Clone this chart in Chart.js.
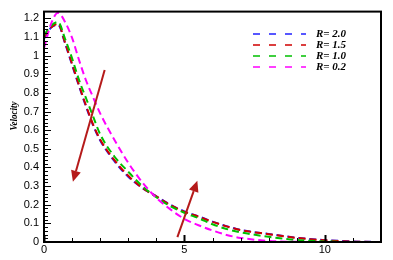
<!DOCTYPE html>
<html>
<head>
<meta charset="utf-8">
<script src="https://cdn.jsdelivr.net/npm/chart.js@4.4.1/dist/chart.umd.min.js"></script>
<style>
  html, body { margin: 0; padding: 0; background: #fff; }
  #wrap { width: 393px; height: 260px; }
</style>
</head>
<body>
<div id="wrap"><canvas id="myChart"></canvas></div>
<script>
// eta values shared by all curves
const xValues = [0, 0.25, 0.5, 0.75, 1, 1.25, 1.5, 1.75, 2, 2.5, 3, 3.5, 4, 4.5, 5, 5.5, 6, 6.5, 7, 8, 9, 10, 11, 12];
const velR20 = [1.09, 1.15, 1.165, 1.065, 0.95, 0.835, 0.725, 0.625, 0.545, 0.435, 0.35, 0.29, 0.245, 0.2, 0.164, 0.138, 0.109, 0.085, 0.065, 0.043, 0.023, 0.01, 0.003, 0];
const velR15 = [1.10, 1.15, 1.17, 1.07, 0.955, 0.84, 0.73, 0.63, 0.55, 0.44, 0.355, 0.29, 0.245, 0.198, 0.162, 0.136, 0.108, 0.084, 0.064, 0.042, 0.022, 0.009, 0.002, 0];
const velR10 = [1.11, 1.16, 1.18, 1.09, 0.985, 0.868, 0.77, 0.673, 0.578, 0.46, 0.377, 0.30, 0.24, 0.192, 0.157, 0.128, 0.095, 0.07, 0.052, 0.028, 0.011, 0.003, 0, 0];
const velR02 = [1.04, 1.17, 1.23, 1.18, 1.095, 0.975, 0.865, 0.776, 0.69, 0.55, 0.425, 0.32, 0.237, 0.175, 0.124, 0.09, 0.062, 0.038, 0.022, 0.006, 0.001, 0, 0, 0];
const seriesNames = ['R= 2.0', 'R= 1.5', 'R= 1.0', 'R= 0.2'];
const xTickLabels = [0, 5, 10];
const yTickLabels = [0, 0.1, 0.2, 0.3, 0.4, 0.5, 0.6, 0.7, 0.8, 0.9, 1, 1.1, 1.2];
const yTitle = 'Velocity';
// arrows: [x0, y0, x1, y1], head at the second point
const arrows = [[2.16, 0.923, 1.03, 0.323], [4.75, 0.026, 5.46, 0.329]];

const colors = ['#2020ff', '#d00000', '#00c000', '#ff00ff'];
const ctx = document.getElementById('myChart');

function pts(ys) {
  return xValues.map((x, i) => ({ x: x, y: ys[i] }));
}

const allSeries = [velR20, velR15, velR10, velR02];
const datasets = allSeries.map((ys, i) => ({
  label: seriesNames[i],
  data: pts(ys),
  borderColor: colors[i],
  borderWidth: 2,
  borderDash: [7, 4],
  pointRadius: 0,
  fill: false,
  showLine: true,
  cubicInterpolationMode: 'monotone',
  order: 4 - i
}));

const framePlugin = {
  id: 'frame',
  afterDatasetsDraw(chart) {
    const { ctx, chartArea: a, scales: { x, y } } = chart;
    ctx.save();
    // arrows
    ctx.strokeStyle = '#b51a1a';
    ctx.fillStyle = '#b51a1a';
    ctx.lineWidth = 2;
    arrows.forEach(ar => {
      const x0 = x.getPixelForValue(ar[0]), y0 = y.getPixelForValue(ar[1]);
      const x1 = x.getPixelForValue(ar[2]), y1 = y.getPixelForValue(ar[3]);
      const ang = Math.atan2(y1 - y0, x1 - x0);
      const hl = 11, hw = 5;
      const bx = x1 - hl * Math.cos(ang), by = y1 - hl * Math.sin(ang);
      ctx.beginPath();
      ctx.moveTo(x0, y0);
      ctx.lineTo(bx, by);
      ctx.stroke();
      ctx.beginPath();
      ctx.moveTo(x1, y1);
      ctx.lineTo(bx + hw * Math.sin(ang), by - hw * Math.cos(ang));
      ctx.lineTo(bx - hw * Math.sin(ang), by + hw * Math.cos(ang));
      ctx.closePath();
      ctx.fill();
    });

    // frame
    ctx.strokeStyle = '#000';
    ctx.lineWidth = 2;
    ctx.strokeRect(a.left, a.top, a.right - a.left, a.bottom - a.top);

    // inward ticks on y
    ctx.lineWidth = 1;
    for (let v = 0; v <= 1.2 + 1e-9; v += 0.02) {
      const py = Math.round(y.getPixelForValue(v)) + 0.5;
      const major = Math.abs(v * 10 - Math.round(v * 10)) < 1e-6;
      ctx.beginPath();
      ctx.moveTo(a.left, py);
      ctx.lineTo(a.left + (major ? 7 : 4), py);
      ctx.stroke();
    }
    // inward ticks on x
    for (let v = 0; v <= 12; v += 1) {
      const px = Math.round(x.getPixelForValue(v)) + 0.5;
      const major = v % 5 === 0;
      ctx.lineWidth = major ? 2 : 1;
      ctx.beginPath();
      ctx.moveTo(px, a.bottom);
      ctx.lineTo(px, a.bottom - (major ? 7 : 4));
      ctx.stroke();
    }

    // y axis title, a bit narrow like the original
    ctx.fillStyle = '#000';
    ctx.save();
    ctx.translate(14, 116);
    ctx.rotate(-Math.PI / 2);
    ctx.scale(0.82, 1);
    ctx.font = 'italic bold 11px "Liberation Serif"';
    ctx.textAlign = 'center';
    ctx.textBaseline = 'middle';
    ctx.fillText(yTitle, 0, 0);
    ctx.restore();

    // legend
    ctx.font = 'italic bold 11px "Liberation Serif"';
    ctx.textBaseline = 'middle';
    ctx.textAlign = 'left';
    const rowsY = [34, 45, 56, 67];
    chart.data.datasets.forEach((ds, i) => {
      ctx.strokeStyle = ds.borderColor;
      ctx.lineWidth = 1.5;
      ctx.setLineDash([7, 9]);
      ctx.beginPath();
      ctx.moveTo(253, rowsY[i]);
      ctx.lineTo(306, rowsY[i]);
      ctx.stroke();
      ctx.setLineDash([]);
      ctx.fillText(ds.label, 316, rowsY[i]);
    });
    ctx.restore();
  }
};

const config = {
  type: 'scatter',
  data: { datasets: datasets },
  options: {
    responsive: true,
    maintainAspectRatio: false,
    animation: false,
    layout: { padding: { top: 5, right: 12, left: 0, bottom: 0 } },
    plugins: { legend: { display: false }, tooltip: { enabled: false } },
    scales: {
      x: {
        type: 'linear',
        min: 0,
        max: 12,
        grid: { display: false, drawTicks: false },
        border: { display: false },
        afterBuildTicks: s => { s.ticks = xTickLabels.map(v => ({ value: v })); },
        afterFit: s => { s.height = 18; },
        ticks: {
          padding: 1,
          color: '#000',
          maxRotation: 0,
          font: { family: '"Liberation Sans", Arial', size: 11 },
          callback: v => String(v)
        }
      },
      y: {
        min: 0,
        max: 1.236,
        grid: { display: false, drawTicks: false },
        border: { display: false },
        afterBuildTicks: s => { s.ticks = yTickLabels.map(v => ({ value: v })); },
        afterFit: s => { s.width = 44; },
        ticks: {
          padding: 5,
          color: '#000',
          font: { family: '"Liberation Sans", Arial', size: 11 },
          callback: v => String(+Number(v).toFixed(2))
        }
      }
    }
  },
  plugins: [framePlugin]
};

new Chart(ctx, config);
</script>
</body>
</html>
